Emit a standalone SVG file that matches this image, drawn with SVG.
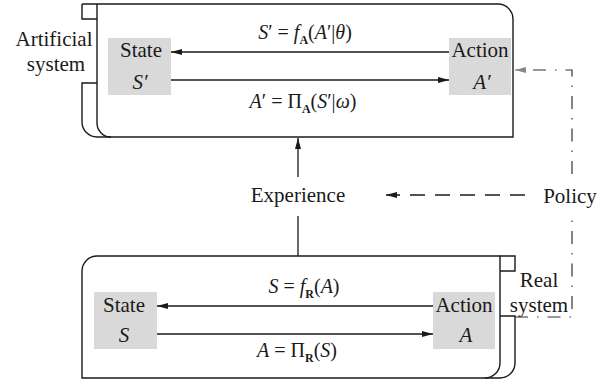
<svg xmlns="http://www.w3.org/2000/svg" width="616" height="383" viewBox="0 0 616 383">
<style>
.frame{fill:none;stroke:#1a1a1a;stroke-width:1.4}
.box{fill:#d9d9d9}
.t{font-family:"Liberation Serif","Times New Roman",serif;font-size:21px;fill:#1a1a1a}
.m{font-family:"Liberation Serif","Times New Roman",serif;font-size:20px;fill:#1a1a1a}
.i{font-style:italic}
.sub{font-weight:bold;font-size:12px}
.ln{fill:none;stroke:#1a1a1a;stroke-width:1.3}
.dash{stroke-dasharray:15 10}
.dd{fill:none;stroke:#333;stroke-width:1.2;stroke-dasharray:13 9 1.5 9}
</style>
<defs>
<marker id="ah" markerWidth="12" markerHeight="8" refX="11" refY="4" orient="auto" markerUnits="userSpaceOnUse">
<path d="M0,1 L11,4 L0,7 Z" fill="#1a1a1a"/>
</marker>
<marker id="ahg" markerWidth="12" markerHeight="8" refX="11" refY="4" orient="auto" markerUnits="userSpaceOnUse">
<path d="M0,1 L11,4 L0,7 Z" fill="#888"/>
</marker>
</defs>

<g id="artificial-system">
<path class="frame" d="M82 4 H498 A15 15 0 0 1 513 19 V137 H111 A14 14 0 0 1 97 123 V4"/>
<path class="frame" d="M82 4 V19 H97"/>
<path class="frame" d="M97 83 H82 V122 A15 15 0 0 0 97 137 H111"/>
<text class="t" x="54" y="46" text-anchor="middle">Artificial</text>
<text class="t" x="56" y="71" text-anchor="middle">system</text>
</g>

<g id="state-artificial">
<rect class="box" x="108" y="38" width="63" height="57"/>
<text class="t" x="141" y="57" text-anchor="middle">State</text>
<text class="t i" x="140" y="89" text-anchor="middle">S′</text>
</g>

<g id="action-artificial">
<rect class="box" x="449" y="38" width="62" height="57"/>
<text class="t" x="480" y="57" text-anchor="middle">Action</text>
<text class="t i" x="482" y="89" text-anchor="middle">A′</text>
</g>

<g id="real-system">
<path class="frame" d="M97 256 H500 V363 A15 15 0 0 1 485 378 H82 V271 A15 15 0 0 1 97 256"/>
<path class="frame" d="M500 256 H515 V271 H500"/>
<path class="frame" d="M500 316 H515 V363 A15 15 0 0 1 500 378 H485"/>
<text class="t" x="539" y="287" text-anchor="middle">Real</text>
<text class="t" x="539" y="312" text-anchor="middle">system</text>
</g>

<g id="state-real">
<rect class="box" x="94" y="292" width="63" height="57"/>
<text class="t" x="124" y="312" text-anchor="middle">State</text>
<text class="t i" x="124" y="342" text-anchor="middle">S</text>
</g>

<g id="action-real">
<rect class="box" x="433" y="292" width="62" height="57"/>
<text class="t" x="464" y="312" text-anchor="middle">Action</text>
<text class="t i" x="466" y="342" text-anchor="middle">A</text>
</g>

<g id="experience">
<text class="t" x="298" y="202" text-anchor="middle">Experience</text>
</g>

<g id="policy">
<text class="t" x="570" y="203" text-anchor="middle">Policy</text>
</g>

<g id="connectors">
<line class="ln" x1="449" y1="52" x2="171" y2="52" marker-end="url(#ah)"/>
<line class="ln" x1="171" y1="80" x2="449" y2="80" marker-end="url(#ah)"/>
<line class="ln" x1="433" y1="306" x2="157" y2="306" marker-end="url(#ah)"/>
<line class="ln" x1="157" y1="334" x2="433" y2="334" marker-end="url(#ah)"/>
<line class="ln" x1="298" y1="256" x2="298" y2="216"/>
<line class="ln" x1="298" y1="177" x2="298" y2="138" marker-end="url(#ah)"/>
<line class="ln dash" x1="525" y1="195" x2="386" y2="195" marker-end="url(#ah)"/>
<path class="dd" d="M515 317 H572 V212"/>
<path class="dd" d="M572 174 V70 H520"/>
<line x1="525" y1="70" x2="515" y2="70" stroke="#888" stroke-width="1.2" marker-end="url(#ahg)"/>
<text class="m" x="305" y="39" text-anchor="middle"><tspan class="i">S</tspan>′ = <tspan class="i">f</tspan><tspan class="sub" dy="5">A</tspan><tspan dy="-5">(</tspan><tspan class="i">A</tspan>′|<tspan class="i">θ</tspan>)</text>
<text class="m" x="303" y="108" text-anchor="middle"><tspan class="i">A</tspan>′ = Π<tspan class="sub" dy="5">A</tspan><tspan dy="-5">(</tspan><tspan class="i">S</tspan>′|<tspan class="i">ω</tspan>)</text>
<text class="m" x="304" y="293" text-anchor="middle"><tspan class="i">S</tspan> = <tspan class="i">f</tspan><tspan class="sub" dy="5">R</tspan><tspan dy="-5">(</tspan><tspan class="i">A</tspan>)</text>
<text class="m" x="297" y="357" text-anchor="middle"><tspan class="i">A</tspan> = Π<tspan class="sub" dy="5">R</tspan><tspan dy="-5">(</tspan><tspan class="i">S</tspan>)</text>
</g>
</svg>
